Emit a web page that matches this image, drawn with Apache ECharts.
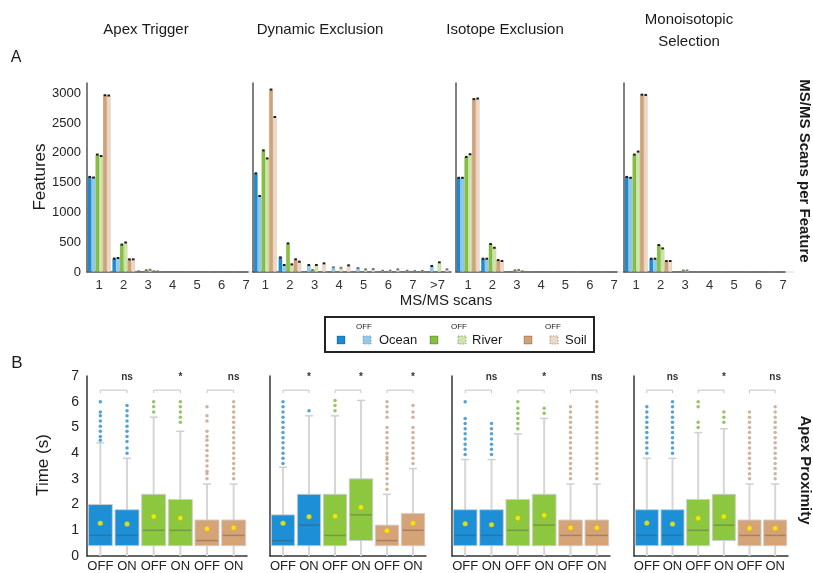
<!DOCTYPE html>
<html>
<head>
<meta charset="utf-8">
<script src="https://cdn.jsdelivr.net/npm/echarts@6/dist/echarts.min.js"></script>
<style>
html,body{margin:0;padding:0;background:#fff;}
#main{width:813px;height:573px;}
</style>
</head>
<body>
<div id="main"></div>
<script>
// ---- data: MS/MS scans per feature (A) ----
var scanX = [1, 2, 3, 4, 5, 6, 7];
var scanLabels = ['1', '2', '3', '4', '5', '6', '7'];
var scanXDyn = [1, 2, 3, 4, 5, 6, 7, 8];
var scanLabelsDyn = ['1', '2', '3', '4', '5', '6', '7', '>7'];

var apexOceanOn  = [1595, 225, 12, 4, 1, 0, 0];
var apexOceanOff = [1585, 235, 8, 3, 1, 0, 0];
var apexRiverOn  = [1970, 460, 32, 5, 2, 1, 0];
var apexRiverOff = [1945, 495, 38, 6, 2, 1, 0];
var apexSoilOn   = [2965, 212, 12, 4, 1, 0, 0];
var apexSoilOff  = [2960, 212, 10, 3, 1, 0, 0];

var dynOceanOn  = [1655, 245, 8, 0, 0, 0, 0, 0];
var dynOceanOff = [1275, 117, 117, 80, 67, 22, 22, 100];
var dynRiverOn  = [2040, 480, 33, 0, 0, 0, 0, 0];
var dynRiverOff = [1905, 128, 117, 72, 45, 22, 15, 162];
var dynSoilOn   = [3060, 213, 8, 0, 0, 0, 0, 0];
var dynSoilOff  = [2600, 173, 145, 112, 50, 45, 18, 45];

var isoOceanOn  = [1580, 223, 6, 2, 1, 0, 0];
var isoOceanOff = [1580, 223, 6, 2, 1, 0, 0];
var isoRiverOn  = [1930, 470, 28, 4, 1, 0, 0];
var isoRiverOff = [1975, 407, 35, 4, 1, 0, 0];
var isoSoilOn   = [2900, 200, 10, 3, 1, 0, 0];
var isoSoilOff  = [2910, 185, 8, 3, 1, 0, 0];

var monoOceanOn  = [1595, 223, 5, 2, 1, 0, 0];
var monoOceanOff = [1580, 223, 5, 2, 1, 0, 0];
var monoRiverOn  = [1970, 452, 25, 3, 1, 0, 0];
var monoRiverOff = [2020, 396, 25, 3, 1, 0, 0];
var monoSoilOn   = [2975, 184, 8, 2, 1, 0, 0];
var monoSoilOff  = [2970, 184, 6, 2, 1, 0, 0];

// ---- data: apex proximity (B), [min, q1, median, q3, max] ----
var onOffLabels = ['OFF', 'ON', 'OFF', 'ON', 'OFF', 'ON'];

var apexBoxes = [[0, 0.4, 0.8, 2.0, 4.4], [0, 0.4, 0.8, 1.8, 3.8], [0, 0.4, 1.0, 2.4, 5.4],
                 [0, 0.4, 1.0, 2.2, 4.85], [0, 0.4, 0.6, 1.4, 2.8], [0, 0.4, 0.8, 1.4, 2.8]];
var apexMeans = [1.27, 1.24, 1.54, 1.48, 1.06, 1.1];
var apexOutliers = [
  [4.5, 4.65, 4.85, 5.05, 5.25, 5.45, 5.6, 6.0],
  [4.0, 4.2, 4.45, 4.65, 4.85, 5.05, 5.25, 5.45, 5.65, 5.85],
  [5.6, 5.8, 6.0],
  [5.2, 5.4, 5.6, 5.8, 6.0],
  [3.0, 3.2, 3.3, 3.5, 3.7, 3.9, 4.1, 4.3, 4.5, 4.65, 4.85, 5.25, 5.45, 5.8],
  [3.0, 3.2, 3.4, 3.6, 3.8, 4.0, 4.2, 4.4, 4.6, 4.8, 5.0, 5.2, 5.4, 5.6, 5.8, 6.0]
];
var apexSig = ['ns', '*', 'ns'];

var dynBoxes = [[0, 0.4, 0.6, 1.6, 3.45], [0, 0.4, 1.2, 2.4, 5.45], [0, 0.4, 0.8, 2.4, 5.45],
                [0, 0.6, 1.6, 3.0, 6.05], [0, 0.4, 0.6, 1.2, 2.4], [0, 0.4, 1.0, 1.65, 3.4]];
var dynMeans = [1.27, 1.53, 1.55, 1.9, 0.98, 1.27];
var dynOutliers = [
  [3.6, 3.8, 4.0, 4.2, 4.4, 4.6, 4.8, 5.0, 5.2, 5.4, 5.6, 5.8, 6.0],
  [5.65],
  [5.65, 5.85, 6.05],
  [],
  [2.6, 2.8, 3.0, 3.2, 3.4, 3.6, 3.75, 3.85, 4.0, 4.2, 4.4, 4.6, 4.8, 5.0, 5.4, 5.6, 5.8, 6.0],
  [3.6, 3.8, 4.0, 4.2, 4.4, 4.6, 4.8, 5.0, 5.4, 5.6, 5.85]
];
var dynSig = ['*', '*', '*'];

var isoBoxes = [[0, 0.4, 0.8, 1.8, 3.75], [0, 0.4, 0.8, 1.8, 3.75], [0, 0.4, 1.0, 2.2, 4.75],
                [0, 0.4, 1.2, 2.4, 5.35], [0, 0.4, 0.8, 1.4, 2.8], [0, 0.4, 0.8, 1.4, 2.8]];
var isoMeans = [1.25, 1.22, 1.48, 1.58, 1.1, 1.1];
var isoOutliers = [
  [3.95, 4.15, 4.35, 4.55, 4.75, 4.95, 5.15, 5.35, 6.0],
  [3.95, 4.15, 4.35, 4.55, 4.75, 4.95, 5.15],
  [4.95, 5.15, 5.35, 5.55, 5.75, 6.0],
  [5.55, 5.75],
  [3.0, 3.2, 3.4, 3.6, 3.8, 4.0, 4.2, 4.4, 4.6, 4.8, 5.0, 5.2, 5.4, 5.6, 5.8],
  [3.0, 3.2, 3.4, 3.6, 3.8, 4.0, 4.2, 4.4, 4.6, 4.8, 5.0, 5.2, 5.4, 5.6, 5.8, 6.0]
];
var isoSig = ['ns', '*', 'ns'];

var monoBoxes = [[0, 0.4, 0.8, 1.8, 3.8], [0, 0.4, 0.8, 1.8, 3.8], [0, 0.4, 1.0, 2.2, 4.8],
                 [0, 0.6, 1.2, 2.4, 4.95], [0, 0.4, 0.8, 1.4, 2.8], [0, 0.4, 0.8, 1.4, 2.8]];
var monoMeans = [1.28, 1.24, 1.47, 1.54, 1.08, 1.08];
var monoOutliers = [
  [4.0, 4.2, 4.4, 4.6, 4.8, 5.0, 5.2, 5.4, 5.6, 5.8],
  [4.0, 4.2, 4.4, 4.6, 4.8, 5.0, 5.2, 5.4, 5.6, 5.8, 6.0],
  [5.0, 5.2, 5.8, 6.0],
  [5.2, 5.4, 5.6],
  [3.0, 3.2, 3.4, 3.6, 3.8, 4.0, 4.2, 4.4, 4.6, 4.8, 5.0, 5.2, 5.4, 5.6],
  [3.0, 3.2, 3.4, 3.6, 3.8, 4.0, 4.2, 4.4, 4.6, 4.8, 5.0, 5.2, 5.4, 5.6, 5.8]
];
var monoSig = ['ns', '*', 'ns'];

// ---- styles ----
var FONT = '"Liberation Sans", Arial, sans-serif';
var barColors = ['#1b8cd3', '#8fcbef', '#86c13c', '#cfe6a9', '#d4a175', '#efd9c4'];
var boxColors = ['#1d8fd6', '#1d8fd6', '#8dc63f', '#8dc63f', '#d6a376', '#d6a376'];
var dotColors = ['#2b8ccc', '#2b8ccc', '#7db544', '#7db544', '#c4a084', '#c4a084'];
var barW = 3.8;

var barPanels = [
  {x: scanX, labels: scanLabels, left: 87, width: 161, max: 7.08,
   data: [apexOceanOn, apexOceanOff, apexRiverOn, apexRiverOff, apexSoilOn, apexSoilOff]},
  {x: scanXDyn, labels: scanLabelsDyn, left: 253, width: 198, max: 8.55,
   data: [dynOceanOn, dynOceanOff, dynRiverOn, dynRiverOff, dynSoilOn, dynSoilOff]},
  {x: scanX, labels: scanLabels, left: 456, width: 161, max: 7.12,
   data: [isoOceanOn, isoOceanOff, isoRiverOn, isoRiverOff, isoSoilOn, isoSoilOff]},
  {x: scanX, labels: scanLabels, left: 624, width: 161, max: 7.08,
   data: [monoOceanOn, monoOceanOff, monoRiverOn, monoRiverOff, monoSoilOn, monoSoilOff]}
];
var boxPanels = [
  {left: 87, width: 160, boxes: apexBoxes, means: apexMeans, outliers: apexOutliers, sig: apexSig},
  {left: 270, width: 156, boxes: dynBoxes, means: dynMeans, outliers: dynOutliers, sig: dynSig},
  {left: 452, width: 158, boxes: isoBoxes, means: isoMeans, outliers: isoOutliers, sig: isoSig},
  {left: 634, width: 154, boxes: monoBoxes, means: monoMeans, outliers: monoOutliers, sig: monoSig}
];

// small error-bar caps on top of the bars
function renderCaps(params, api) {
  var children = [];
  var x = api.value(0);
  for (var k = 0; k < 6; k++) {
    var v = api.value(k + 1);
    if (!(v >= 10)) continue;
    var p = api.coord([x, v]);
    var cx = p[0] + (k - 2.5) * barW;
    children.push({type: 'rect', shape: {x: cx - 1.3, y: p[1] - 1, width: 2.6, height: 2},
      style: {fill: v >= 100 ? '#1a1a1a' : '#777'}});
  }
  return {type: 'group', children: children};
}

function renderBox(params, api) {
  var i = api.value(0);
  var bw = api.size([1, 0])[0] * 0.9;
  var pMin = api.coord([i, api.value(1)]);
  var pQ1 = api.coord([i, api.value(2)]);
  var pMed = api.coord([i, api.value(3)]);
  var pQ3 = api.coord([i, api.value(4)]);
  var pMax = api.coord([i, api.value(5)]);
  var x = pMin[0];
  return {type: 'group', children: [
    {type: 'line', shape: {x1: x, y1: pMin[1], x2: x, y2: pMax[1]}, style: {stroke: '#d6d6d6', lineWidth: 2}},
    {type: 'line', shape: {x1: x - 4, y1: pMax[1], x2: x + 4, y2: pMax[1]}, style: {stroke: '#cfcfcf', lineWidth: 1.5}},
    {type: 'rect', shape: {x: x - bw / 2, y: pQ3[1], width: bw, height: pQ1[1] - pQ3[1]},
      style: {fill: boxColors[i], stroke: 'rgba(205,205,205,0.9)', lineWidth: 1}},
    {type: 'line', shape: {x1: x - bw / 2 + 1, y1: pMed[1], x2: x + bw / 2 - 1, y2: pMed[1]},
      style: {stroke: 'rgba(70,70,70,0.35)', lineWidth: 1.5}}
  ]};
}

function makeSigRenderer(labels) {
  return function (params, api) {
    var a = api.coord([api.value(0), 6.45]);
    var b = api.coord([api.value(1), 6.45]);
    var t = api.coord([(api.value(0) + api.value(1)) / 2, 6.95]);
    return {type: 'group', children: [
      {type: 'polyline', shape: {points: [[a[0], a[1] + 3], [a[0], a[1]], [b[0], b[1]], [b[0], b[1] + 3]]},
        style: {stroke: '#c4c4c4', lineWidth: 1, fill: null}},
      {type: 'text', x: t[0], y: t[1], style: {text: labels[params.dataIndex], fill: '#333',
        font: 'bold 10px ' + FONT, align: 'center', verticalAlign: 'middle'}}
    ]};
  };
}

var grids = [], xAxes = [], yAxes = [], series = [];

barPanels.forEach(function (p, gi) {
  grids.push({left: p.left, top: 83, width: p.width, height: 189});
  xAxes.push({
    gridIndex: gi, type: 'value', min: 0.5, max: p.max, interval: 0.5,
    axisLine: {lineStyle: {color: '#555', width: 1.5}}, axisTick: {show: false}, splitLine: {show: false},
    axisLabel: {showMaxLabel: false, showMinLabel: false, margin: 7, color: '#333', fontSize: 13, fontFamily: FONT,
      formatter: function (v) {
        var n = Math.round(v);
        return Math.abs(v - n) < 1e-6 ? (p.labels[n - 1] || '') : '';
      }}
  });
  yAxes.push({
    gridIndex: gi, type: 'value', min: 0, max: 3170, interval: 500,
    axisLine: {show: true, lineStyle: {color: '#555', width: 1.5}}, axisTick: {show: false}, splitLine: {show: false},
    axisLabel: {show: gi === 0, showMaxLabel: false, margin: 6, color: '#222', fontSize: 13, fontFamily: FONT,
      formatter: function (v) { return String(v); }}
  });
  p.data.forEach(function (vals, k) {
    series.push({
      type: 'bar', xAxisIndex: gi, yAxisIndex: gi, barWidth: barW, barGap: '0%',
      data: p.x.map(function (x, i) { return [x, vals[i]]; }),
      itemStyle: {color: barColors[k], borderColor: 'rgba(0,0,0,0.18)', borderWidth: 0.4}
    });
  });
  series.push({
    type: 'custom', xAxisIndex: gi, yAxisIndex: gi, renderItem: renderCaps, z: 5,
    encode: {x: 0, y: [1, 2, 3, 4, 5, 6]},
    data: p.x.map(function (x, i) { return [x].concat(p.data.map(function (v) { return v[i]; })); })
  });
});

boxPanels.forEach(function (p, j) {
  var gi = 4 + j;
  grids.push({left: p.left, top: 376, width: p.width, height: 183});
  xAxes.push({
    gridIndex: gi, type: 'category', data: onOffLabels,
    axisLine: {lineStyle: {color: '#333', width: 1.5}}, axisTick: {show: false},
    axisLabel: {interval: 0, margin: 4, color: '#222', fontSize: 13, fontFamily: FONT}
  });
  yAxes.push({
    gridIndex: gi, type: 'value', min: 0, max: 7, interval: 1,
    axisLine: {show: true, lineStyle: {color: '#333', width: 1.5}}, axisTick: {show: false}, splitLine: {show: false},
    axisLabel: {show: j === 0, margin: 8, color: '#222', fontSize: 14, fontFamily: FONT}
  });
  series.push({
    type: 'custom', xAxisIndex: gi, yAxisIndex: gi, renderItem: renderBox,
    encode: {x: 0, y: [1, 2, 3, 4, 5]},
    data: p.boxes.map(function (b, i) { return [i].concat(b); })
  });
  var outPts = [];
  p.outliers.forEach(function (list, i) {
    list.forEach(function (v) { outPts.push([i, v]); });
  });
  series.push({
    type: 'scatter', xAxisIndex: gi, yAxisIndex: gi, symbolSize: 3.5, data: outPts,
    itemStyle: {color: function (pr) { return dotColors[pr.data[0]]; }}
  });
  series.push({
    type: 'scatter', xAxisIndex: gi, yAxisIndex: gi, symbolSize: 5, z: 4,
    data: p.means.map(function (m, i) { return [i, m]; }),
    itemStyle: {color: '#fff200', borderColor: 'rgba(190,170,0,0.6)', borderWidth: 0.5}
  });
  series.push({
    type: 'custom', xAxisIndex: gi, yAxisIndex: gi, renderItem: makeSigRenderer(p.sig),
    encode: {x: [0, 1]},
    data: [[0, 1], [2, 3], [4, 5]]
  });
});

function txt(text, x, y, size, opts) {
  opts = opts || {};
  return {type: 'text', x: x, y: y, rotation: opts.rotation || 0, silent: true,
    style: {text: text, fill: '#1a1a1a', font: (opts.bold ? 'bold ' : '') + size + 'px ' + FONT,
      align: 'center', verticalAlign: 'middle', lineHeight: opts.lineHeight || size}};
}

var graphics = [
  txt('Apex Trigger', 146, 30, 15),
  txt('Dynamic Exclusion', 320, 30, 15),
  txt('Isotope Exclusion', 505, 30, 15),
  txt('Monoisotopic\nSelection', 689, 31, 15, {lineHeight: 22}),
  txt('A', 16, 58, 16),
  txt('B', 17, 363, 17),
  txt('Features', 40, 177, 17, {rotation: Math.PI / 2}),
  txt('Time (s)', 43, 465, 17, {rotation: Math.PI / 2}),
  txt('MS/MS scans', 446, 301, 15),
  txt('MS/MS Scans per Feature', 804, 171, 15, {rotation: -Math.PI / 2, bold: true}),
  txt('Apex Proximity', 805, 470, 15, {rotation: -Math.PI / 2, bold: true}),
  // legend
  {type: 'rect', shape: {x: 325, y: 317, width: 269, height: 35}, style: {fill: 'none', stroke: '#222', lineWidth: 2}},
  {type: 'rect', shape: {x: 337, y: 336, width: 8, height: 8}, style: {fill: barColors[0], stroke: 'rgba(0,0,0,0.4)', lineWidth: 0.6}},
  {type: 'rect', shape: {x: 363, y: 336, width: 8, height: 8}, style: {fill: barColors[1], stroke: '#888', lineWidth: 0.8, lineDash: [1.5, 1.5]}},
  txt('OFF', 364, 327, 8),
  {type: 'text', x: 379, y: 340, style: {text: 'Ocean', fill: '#1a1a1a', font: '13px ' + FONT, align: 'left', verticalAlign: 'middle'}},
  {type: 'rect', shape: {x: 430, y: 336, width: 8, height: 8}, style: {fill: barColors[2], stroke: 'rgba(0,0,0,0.4)', lineWidth: 0.6}},
  {type: 'rect', shape: {x: 458, y: 336, width: 8, height: 8}, style: {fill: barColors[3], stroke: '#888', lineWidth: 0.8, lineDash: [1.5, 1.5]}},
  txt('OFF', 459, 327, 8),
  {type: 'text', x: 472, y: 340, style: {text: 'River', fill: '#1a1a1a', font: '13px ' + FONT, align: 'left', verticalAlign: 'middle'}},
  {type: 'rect', shape: {x: 524, y: 336, width: 8, height: 8}, style: {fill: barColors[4], stroke: 'rgba(0,0,0,0.4)', lineWidth: 0.6}},
  {type: 'rect', shape: {x: 550, y: 336, width: 8, height: 8}, style: {fill: barColors[5], stroke: '#888', lineWidth: 0.8, lineDash: [1.5, 1.5]}},
  txt('OFF', 553, 327, 8),
  {type: 'text', x: 565, y: 340, style: {text: 'Soil', fill: '#1a1a1a', font: '13px ' + FONT, align: 'left', verticalAlign: 'middle'}}
];

var chart = echarts.init(document.getElementById('main'));
chart.setOption({
  backgroundColor: '#fff',
  animation: false,
  textStyle: {fontFamily: FONT},
  grid: grids,
  xAxis: xAxes,
  yAxis: yAxes,
  series: series,
  graphic: graphics
});
</script>
</body>
</html>
